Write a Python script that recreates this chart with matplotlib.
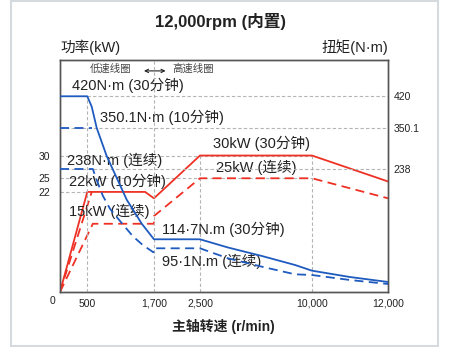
import numpy as np
import matplotlib
matplotlib.use("Agg")
import matplotlib.pyplot as plt
from matplotlib.patches import Rectangle

plt.rcParams['font.family'] = ['Liberation Sans', 'Noto Sans CJK SC', 'DejaVu Sans']

# speed axis: uneven spacing between the labelled speeds
speed_ticks = [500, 1700, 2500, 10000, 12000]
speed_labels = ['500', '1,700', '2,500', '10,000', '12,000']
speed_knots = [0, 500, 1700, 2500, 10000, 12000]
speed_pos = [0, 27.3, 94, 140, 252, 328]

# torque axis (right) is not drawn to a linear scale either
torque_knots = [0, 114.7, 238, 350.1, 420]
torque_pos = [0, 52.7, 123, 164, 195.7]
torque_ticks = [238, 350.1, 420]
power_ticks = [22, 25, 30]

# power curves (kW)
p30_rpm = [0, 500, 1540, 1700, 2500, 10000, 12000]
p30_kw = [0, 22, 22, 20.6, 30, 30, 24.3]
pcont_rpm = [0, 600, 1700, 1700, 2500, 10000, 12000]
pcont_kw = [0, 15, 15, 16.7, 25, 25, 20.6]
p10_rpm = [0, 580]
p10_kw = [0, 22]

# torque curves (N·m)
t30_rpm = [0, 500, 580, 670, 850, 1060, 1210, 1480, 1700, 2500,
           4380, 6650, 8860, 10000, 11000, 12000]
t30_nm = [420, 420, 397, 350, 273, 216, 184, 142, 114.7, 114.7,
          96.8, 78.3, 58.8, 46.4, 32.6, 21.8]
t10_rpm = [0, 580]
t10_nm = [350.1, 350.1]
tcont_rpm = [0, 600, 675, 780, 910, 1070, 1320, 1500, 1690, 1700, 2500,
             4380, 6650, 8860, 10000, 11000, 12000]
tcont_nm = [238, 238, 217, 191, 168, 149, 120, 102, 86.4, 95.1, 95.1,
            73.3, 55, 38.5, 37, 26.1, 17.4]


def piecewise(src, dst):
    src = np.asarray(src, float)
    dst = np.asarray(dst, float)

    def f(v):
        v = np.asarray(v, float)
        out = np.interp(v, src, dst)
        lo = dst[0] + (v - src[0]) * (dst[1] - dst[0]) / (src[1] - src[0])
        hi = dst[-1] + (v - src[-1]) * (dst[-1] - dst[-2]) / (src[-1] - src[-2])
        out = np.where(v < src[0], lo, out)
        out = np.where(v > src[-1], hi, out)
        return out
    return f


RED = '#ee3124'
BLUE = '#1f5bbf'
GRID = '#b4b4b4'
TXT = '#222222'
dash = (0, (5, 3))
gdash = (0, (3, 2))

fig = plt.figure(figsize=(4.51, 3.47), dpi=100)
fig.patches.append(Rectangle((0.0244, 0.003), 0.9468, 0.994, transform=fig.transFigure,
                             fill=False, ec='#d5dade', lw=1.5))
ax = fig.add_axes([0.1330, 0.1585, 0.7273, 0.6686])
ax.set_xscale('function', functions=(piecewise(speed_knots, speed_pos),
                                     piecewise(speed_pos, speed_knots)))
ax.set_xlim(0, 12000)
ax.set_ylim(0, 51)
ax2 = ax.twinx()
ax2.set_yscale('function', functions=(piecewise(torque_knots, torque_pos),
                                      piecewise(torque_pos, torque_knots)))
ax2.set_ylim(0, 500)

# reference lines
gkw = dict(color=GRID, lw=0.8, linestyle=gdash, zorder=1)
ax.hlines([30, 25], 0, 10000, **gkw)
ax.hlines(22, 0, 500, **gkw)
ax.vlines([2500, 10000], 0, 30, **gkw)
ax2.hlines(420, 500, 12000, **gkw)
ax2.hlines([350.1, 238], 0, 12000, **gkw)
ax2.vlines(500, 0, 420, **gkw)
ax2.vlines(1700, 0, 500, **gkw)

# power
ax.plot(p30_rpm, p30_kw, color=RED, lw=1.3, zorder=3)
ax.plot(pcont_rpm, pcont_kw, color=RED, lw=1.3, linestyle=dash, zorder=3)
ax.plot(p10_rpm, p10_kw, color=RED, lw=1.3, linestyle=dash, zorder=3)

# torque
ax2.plot(t30_rpm, t30_nm, color=BLUE, lw=1.3, zorder=3)
ax2.plot(t10_rpm, t10_nm, color=BLUE, lw=1.3, linestyle=dash, zorder=3)
ax2.plot(tcont_rpm, tcont_nm, color=BLUE, lw=1.3, linestyle=dash, zorder=3)

# ticks
ax.set_xticks(speed_ticks)
ax.set_xticklabels(speed_labels)
ax.set_yticks(power_ticks)
ax.set_yticklabels([str(v) for v in power_ticks])
ax2.set_yticks(torque_ticks)
ax2.set_yticklabels(['238', '350.1', '420'])
ax.tick_params(axis='x', length=0, pad=5, labelsize=7.5, labelcolor=TXT)
ax.tick_params(axis='y', length=0, pad=7, labelsize=7.5, labelcolor=TXT)
ax2.tick_params(axis='y', length=0, pad=4, labelsize=7.5, labelcolor=TXT)
ax.minorticks_off()
ax2.minorticks_off()
for a in (ax, ax2):
    for s in a.spines.values():
        s.set_color('#555555')
        s.set_linewidth(1.0)
ax.text(-0.024, -0.04, '0', transform=ax.transAxes, ha='center', va='center',
        fontsize=7.5, color=TXT)

# curve labels
lab = dict(transform=ax.transAxes, fontsize=10.5, color=TXT, va='center', ha='left', zorder=5)
ax.text(0.036, 0.892, '420N·m (30分钟)', **lab)
ax.text(0.122, 0.754, '350.1N·m (10分钟)', **lab)
ax.text(0.020, 0.569, '238N·m (连续)', **lab)
ax.text(0.027, 0.478, '22kW (10分钟)', **lab)
ax.text(0.027, 0.346, '15kW (连续)', **lab)
ax.text(0.310, 0.270, '114·7N.m (30分钟)', **lab)
ax.text(0.310, 0.131, '95·1N.m (连续)', **lab)
ax.text(0.466, 0.641, '30kW (30分钟)', **lab)
ax.text(0.477, 0.536, '25kW (连续)', **lab)

small = dict(transform=ax.transAxes, fontsize=7.5, color='#444444', va='center', ha='center')
ax.text(0.155, 0.961, '低速线圈', **small)
ax.text(0.405, 0.961, '高速线圈', **small)
ax.annotate('', xy=(0.322, 0.953), xytext=(0.256, 0.953), xycoords='axes fraction',
            arrowprops=dict(arrowstyle='<->', color='#222222', lw=0.8,
                            shrinkA=0, shrinkB=0, mutation_scale=6))

fig.text(0.49, 0.9366, '12,000rpm (内置)', ha='center', va='center',
         fontsize=12, fontweight='bold', color=TXT)
fig.text(0.133, 0.8646, '功率(kW)', ha='left', va='center', fontsize=10.5, color=TXT)
fig.text(0.860, 0.8646, '扭矩(N·m)', ha='right', va='center', fontsize=10.5, color=TXT)
fig.text(0.495, 0.0605, '主轴转速 (r/min)', ha='center', va='center',
         fontsize=10, fontweight='bold', color=TXT)

fig.savefig('out.png', dpi=100)
